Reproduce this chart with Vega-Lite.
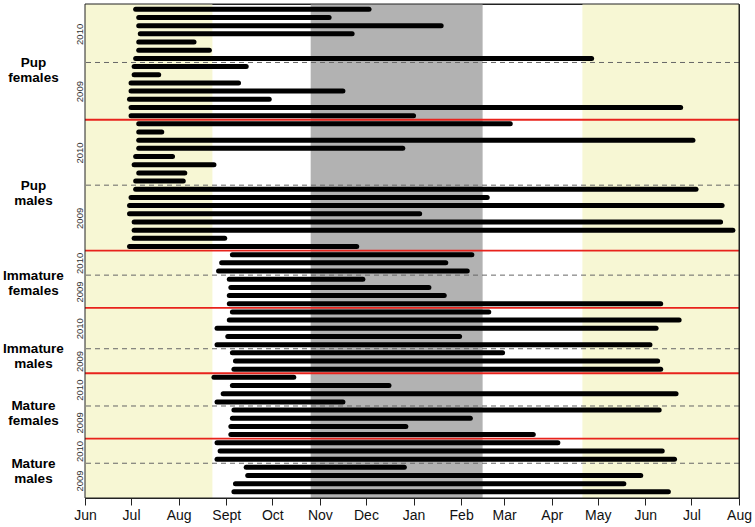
{
  "$schema": "https://vega.github.io/schema/vega-lite/v6.json",
  "width": 654,
  "height": 494,
  "autosize": {"type": "none"},
  "padding": {"left": 85, "top": 4, "right": 16, "bottom": 29},
  "config": {
    "view": {"stroke": "#222222", "strokeWidth": 1},
    "font": "Liberation Sans"
  },
  "datasets": {
    "bands": [
      {"season": "summer", "start": "2009-06-01", "end": "2009-08-23"},
      {"season": "winter", "start": "2009-10-26", "end": "2010-02-15"},
      {"season": "summer", "start": "2010-04-21", "end": "2010-08-01"}
    ],
    "frame": [{"part": "plot"}],
    "yearBreaks": [{"row": 53.5}, {"row": 38.5}, {"row": 27.5}, {"row": 18.5}, {"row": 11.5}, {"row": 4.5}],
    "groupBreaks": [{"row": 46.5}, {"row": 30.5}, {"row": 23.5}, {"row": 15.5}, {"row": 7.5}],
    "tracks": [
      {"group": "Pup females", "cohort": "2010", "row": 60, "start": "2009-07-04", "end": "2009-12-03"},
      {"group": "Pup females", "cohort": "2010", "row": 59, "start": "2009-07-06", "end": "2009-11-07"},
      {"group": "Pup females", "cohort": "2010", "row": 58, "start": "2009-07-06", "end": "2010-01-19"},
      {"group": "Pup females", "cohort": "2010", "row": 57, "start": "2009-07-07", "end": "2009-11-22"},
      {"group": "Pup females", "cohort": "2010", "row": 56, "start": "2009-07-06", "end": "2009-08-11"},
      {"group": "Pup females", "cohort": "2010", "row": 55, "start": "2009-07-06", "end": "2009-08-21"},
      {"group": "Pup females", "cohort": "2010", "row": 54, "start": "2009-07-04", "end": "2010-04-27"},
      {"group": "Pup females", "cohort": "2009", "row": 53, "start": "2009-07-03", "end": "2009-09-14"},
      {"group": "Pup females", "cohort": "2009", "row": 52, "start": "2009-07-03", "end": "2009-07-19"},
      {"group": "Pup females", "cohort": "2009", "row": 51, "start": "2009-07-01", "end": "2009-09-09"},
      {"group": "Pup females", "cohort": "2009", "row": 50, "start": "2009-07-01", "end": "2009-11-16"},
      {"group": "Pup females", "cohort": "2009", "row": 49, "start": "2009-06-30", "end": "2009-09-29"},
      {"group": "Pup females", "cohort": "2009", "row": 48, "start": "2009-07-01", "end": "2010-06-24"},
      {"group": "Pup females", "cohort": "2009", "row": 47, "start": "2009-07-01", "end": "2010-01-01"},
      {"group": "Pup males", "cohort": "2010", "row": 46, "start": "2009-07-06", "end": "2010-03-05"},
      {"group": "Pup males", "cohort": "2010", "row": 45, "start": "2009-07-06", "end": "2009-07-21"},
      {"group": "Pup males", "cohort": "2010", "row": 44, "start": "2009-07-06", "end": "2010-07-02"},
      {"group": "Pup males", "cohort": "2010", "row": 43, "start": "2009-07-06", "end": "2009-12-25"},
      {"group": "Pup males", "cohort": "2010", "row": 42, "start": "2009-07-04", "end": "2009-07-28"},
      {"group": "Pup males", "cohort": "2010", "row": 41, "start": "2009-07-03", "end": "2009-08-24"},
      {"group": "Pup males", "cohort": "2010", "row": 40, "start": "2009-07-06", "end": "2009-08-05"},
      {"group": "Pup males", "cohort": "2010", "row": 39, "start": "2009-07-04", "end": "2009-08-04"},
      {"group": "Pup males", "cohort": "2009", "row": 38, "start": "2009-07-04", "end": "2010-07-04"},
      {"group": "Pup males", "cohort": "2009", "row": 37, "start": "2009-07-01", "end": "2010-02-18"},
      {"group": "Pup males", "cohort": "2009", "row": 36, "start": "2009-06-30", "end": "2010-07-21"},
      {"group": "Pup males", "cohort": "2009", "row": 35, "start": "2009-06-30", "end": "2010-01-05"},
      {"group": "Pup males", "cohort": "2009", "row": 34, "start": "2009-07-03", "end": "2010-07-20"},
      {"group": "Pup males", "cohort": "2009", "row": 33, "start": "2009-07-03", "end": "2010-07-28"},
      {"group": "Pup males", "cohort": "2009", "row": 32, "start": "2009-07-03", "end": "2009-08-31"},
      {"group": "Pup males", "cohort": "2009", "row": 31, "start": "2009-06-30", "end": "2009-11-25"},
      {"group": "Immature females", "cohort": "2010", "row": 30, "start": "2009-09-05", "end": "2010-02-08"},
      {"group": "Immature females", "cohort": "2010", "row": 29, "start": "2009-08-29", "end": "2010-01-22"},
      {"group": "Immature females", "cohort": "2010", "row": 28, "start": "2009-08-27", "end": "2010-02-05"},
      {"group": "Immature females", "cohort": "2009", "row": 27, "start": "2009-09-03", "end": "2009-11-29"},
      {"group": "Immature females", "cohort": "2009", "row": 26, "start": "2009-09-04", "end": "2010-01-11"},
      {"group": "Immature females", "cohort": "2009", "row": 25, "start": "2009-09-03", "end": "2010-01-21"},
      {"group": "Immature females", "cohort": "2009", "row": 24, "start": "2009-09-03", "end": "2010-06-11"},
      {"group": "Immature males", "cohort": "2010", "row": 23, "start": "2009-09-05", "end": "2010-02-19"},
      {"group": "Immature males", "cohort": "2010", "row": 22, "start": "2009-09-03", "end": "2010-06-23"},
      {"group": "Immature males", "cohort": "2010", "row": 21, "start": "2009-08-26", "end": "2010-06-08"},
      {"group": "Immature males", "cohort": "2010", "row": 20, "start": "2009-09-02", "end": "2010-01-31"},
      {"group": "Immature males", "cohort": "2010", "row": 19, "start": "2009-08-26", "end": "2010-06-04"},
      {"group": "Immature males", "cohort": "2009", "row": 18, "start": "2009-09-05", "end": "2010-02-28"},
      {"group": "Immature males", "cohort": "2009", "row": 17, "start": "2009-09-07", "end": "2010-06-09"},
      {"group": "Immature males", "cohort": "2009", "row": 16, "start": "2009-09-06", "end": "2010-06-11"},
      {"group": "Mature females", "cohort": "2010", "row": 15, "start": "2009-08-24", "end": "2009-10-15"},
      {"group": "Mature females", "cohort": "2010", "row": 14, "start": "2009-09-05", "end": "2009-12-16"},
      {"group": "Mature females", "cohort": "2010", "row": 13, "start": "2009-08-30", "end": "2010-06-21"},
      {"group": "Mature females", "cohort": "2010", "row": 12, "start": "2009-08-26", "end": "2009-11-16"},
      {"group": "Mature females", "cohort": "2009", "row": 11, "start": "2009-09-06", "end": "2010-06-10"},
      {"group": "Mature females", "cohort": "2009", "row": 10, "start": "2009-09-05", "end": "2010-02-07"},
      {"group": "Mature females", "cohort": "2009", "row": 9, "start": "2009-09-04", "end": "2009-12-27"},
      {"group": "Mature females", "cohort": "2009", "row": 8, "start": "2009-09-04", "end": "2010-03-20"},
      {"group": "Mature males", "cohort": "2010", "row": 7, "start": "2009-08-26", "end": "2010-04-05"},
      {"group": "Mature males", "cohort": "2010", "row": 6, "start": "2009-08-28", "end": "2010-06-12"},
      {"group": "Mature males", "cohort": "2010", "row": 5, "start": "2009-08-26", "end": "2010-06-20"},
      {"group": "Mature males", "cohort": "2009", "row": 4, "start": "2009-09-14", "end": "2009-12-26"},
      {"group": "Mature males", "cohort": "2009", "row": 3, "start": "2009-09-15", "end": "2010-05-29"},
      {"group": "Mature males", "cohort": "2009", "row": 2, "start": "2009-09-07", "end": "2010-05-18"},
      {"group": "Mature males", "cohort": "2009", "row": 1, "start": "2009-09-06", "end": "2010-06-16"}
    ]
  },
  "layer": [
    {
      "data": {"name": "bands"},
      "mark": {"type": "rect"},
      "encoding": {
        "x": {
          "field": "start", "type": "temporal",
          "scale": {"type": "utc", "domain": [{"year": 2009, "month": 6, "date": 1, "utc": true}, {"year": 2010, "month": 8, "date": 1, "utc": true}]},
          "axis": {
            "title": null, "orient": "bottom", "grid": false, "domain": false,
            "values": [
              {"year": 2009, "month": 6, "date": 1, "utc": true},
              {"year": 2009, "month": 7, "date": 1, "utc": true},
              {"year": 2009, "month": 8, "date": 1, "utc": true},
              {"year": 2009, "month": 9, "date": 1, "utc": true},
              {"year": 2009, "month": 10, "date": 1, "utc": true},
              {"year": 2009, "month": 11, "date": 1, "utc": true},
              {"year": 2009, "month": 12, "date": 1, "utc": true},
              {"year": 2010, "month": 1, "date": 1, "utc": true},
              {"year": 2010, "month": 2, "date": 1, "utc": true},
              {"year": 2010, "month": 3, "date": 1, "utc": true},
              {"year": 2010, "month": 4, "date": 1, "utc": true},
              {"year": 2010, "month": 5, "date": 1, "utc": true},
              {"year": 2010, "month": 6, "date": 1, "utc": true},
              {"year": 2010, "month": 7, "date": 1, "utc": true},
              {"year": 2010, "month": 8, "date": 1, "utc": true}
            ],
            "format": "%b",
            "labelExpr": "datum.label == 'Sep' ? 'Sept' : datum.label",
            "tickSize": 7, "tickColor": "#222222", "tickWidth": 1,
            "labelPadding": 3, "labelFontSize": 14, "labelColor": "#111111",
            "labelFlush": false, "labelOverlap": false, "labelBound": false
          }
        },
        "x2": {"field": "end"},
        "color": {
          "field": "season", "type": "nominal",
          "scale": {"domain": ["summer", "winter"], "range": ["#f7f7d4", "#b2b2b2"]},
          "legend": null
        }
      }
    },
    {
      "data": {"name": "yearBreaks"},
      "mark": {"type": "rule", "color": "#666666", "strokeWidth": 1, "strokeDash": [5, 4]},
      "encoding": {
        "y": {
          "field": "row", "type": "quantitative",
          "scale": {"domain": [0.25, 60.65], "nice": false, "zero": false},
          "axis": {
            "orient": "left", "title": null, "ticks": false, "domain": false, "grid": false,
            "values": [53.5, 38.5, 27.5, 18.5, 11.5, 4.5],
            "labelExpr": "datum.value == 53.5 ? ['Pup','females'] : datum.value == 38.5 ? ['Pup','males'] : datum.value == 27.5 ? ['Immature','females'] : datum.value == 18.5 ? ['Immature','males'] : datum.value == 11.5 ? ['Mature','females'] : ['Mature','males']",
            "labelAngle": 0, "labelAlign": "center", "labelBaseline": "middle",
            "labelPadding": 52, "labelFontSize": 13.5, "labelFontWeight": "bold",
            "labelColor": "#000000", "labelLineHeight": 15,
            "labelOverlap": false, "labelBound": false, "labelFlush": false
          }
        }
      }
    },
    {
      "data": {"name": "tracks"},
      "mark": {"type": "rule", "color": "#000000", "strokeWidth": 5, "strokeCap": "round"},
      "encoding": {
        "x": {
          "field": "start", "type": "temporal",
          "scale": {"type": "utc", "domain": [{"year": 2009, "month": 6, "date": 1, "utc": true}, {"year": 2010, "month": 8, "date": 1, "utc": true}]}
        },
        "x2": {"field": "end"},
        "y": {
          "field": "row", "type": "quantitative",
          "scale": {"domain": [0.25, 60.65], "nice": false, "zero": false},
          "axis": {
            "orient": "left", "title": null, "ticks": false, "domain": false, "grid": false,
            "values": [57, 50, 42.5, 34.5, 29, 25.5, 21, 17, 13.5, 9.5, 6, 2.4],
            "labelExpr": "indexof([57, 42.5, 29, 21, 13.5, 6], datum.value) >= 0 ? '2010' : '2009'",
            "labelAngle": -90, "labelAlign": "center", "labelBaseline": "alphabetic",
            "labelPadding": 3, "labelFontSize": 9.5, "labelColor": "#333333",
            "labelOverlap": false, "labelBound": false, "labelFlush": false
          }
        }
      }
    },
    {
      "data": {"name": "groupBreaks"},
      "mark": {"type": "rule", "color": "#e8231c", "strokeWidth": 1.8},
      "encoding": {
        "y": {
          "field": "row", "type": "quantitative",
          "scale": {"domain": [0.25, 60.65], "nice": false, "zero": false},
          "axis": null
        }
      }
    },
    {
      "data": {"name": "frame"},
      "mark": {"type": "rect", "filled": false, "color": "#222222", "strokeWidth": 1},
      "encoding": {}
    }
  ],
  "resolve": {"axis": {"y": "independent"}}
}
